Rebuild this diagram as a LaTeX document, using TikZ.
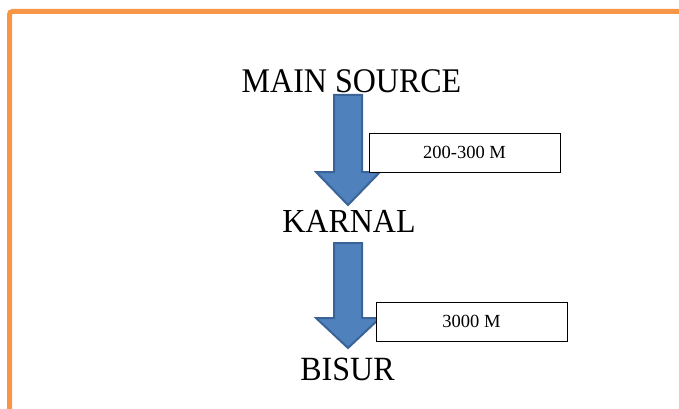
\documentclass[tikz,border=0pt]{standalone}
\usepackage{fontspec}
\setmainfont{Liberation Serif}
\definecolor{frameorange}{HTML}{F79646}
\definecolor{arrowfill}{HTML}{4F81BD}
\definecolor{arrowedge}{HTML}{3A6498}
\tikzset{
  place/.style={anchor=base, inner sep=0pt, font=\fontsize{32}{38}\selectfont},
  distbox/.style={draw=black, line width=0.8pt, fill=white, inner sep=0pt,
    font=\fontsize{18.5}{22}\selectfont},
  blockarrow/.style={fill=arrowfill, draw=arrowedge, line width=2pt, line join=miter},
  frame/.style={draw=frameorange, line width=5pt, rounded corners=3pt}
}
\begin{document}
\begin{tikzpicture}[x=1pt, y=-1pt]
\useasboundingbox (0,0) rectangle (679,409);
% orange page frame
\draw[frame] (9.5,420) -- (9.5,11.5) -- (690,11.5);

% place names
\node[place, yscale=1.08] (src) at (351.5,93) {MAIN SOURCE};
\node[place, yscale=1.05] (kar) at (349,232) {KARNAL};
\node[place, yscale=1.06] (bis) at (347.5,380) {BISUR};

% block arrows between the places
\draw[blockarrow] (334,95) -- (362,95) -- (362,172) -- (380,172)
  -- (348,205) -- (316,172) -- (334,172) -- cycle;
\draw[blockarrow] (334,243) -- (362,243) -- (362,318) -- (380,318)
  -- (348,348) -- (316,318) -- (334,318) -- cycle;

% distance labels
\node[distbox, minimum width=191pt, minimum height=39pt] (d1) at (464.5,152.5) {200-300 M};
\node[distbox, minimum width=191pt, minimum height=39pt] (d2) at (471.5,321.5) {3000 M};
\end{tikzpicture}
\end{document}
